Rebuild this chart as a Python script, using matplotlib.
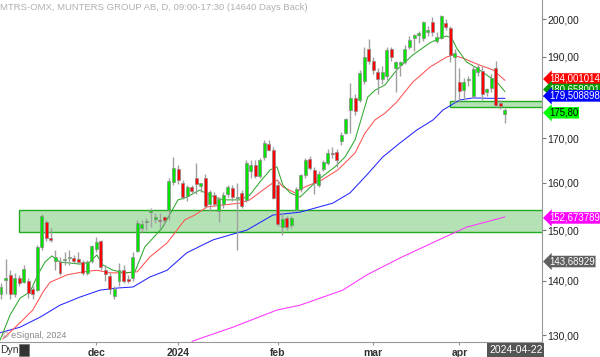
import matplotlib
matplotlib.use("Agg")
import matplotlib.pyplot as plt
from matplotlib.patches import Rectangle
from matplotlib.ticker import FixedLocator, NullLocator
import matplotlib.transforms as mtrans

plt.rcParams['font.family'] = ['Liberation Sans', 'DejaVu Sans']

# daily candles (open, high, low, close)
opens = [137.4, 140.2, 141.0, 137.4, 140.5, 139.8, 140.0, 138.4, 138.2, 146.5,
         151.7, 148.2, 143.8, 143.7, 144.0, 144.3, 144.4, 144.2, 143.7, 141.5,
         143.9, 146.1, 147.7, 142.0, 140.8, 137.1, 139.9, 142.0, 140.2, 140.5,
         145.7, 150.5, 151.6, 153.7, 152.3, 152.0, 152.6, 154.2, 160.2, 163.0,
         160.0, 157.2, 159.0, 161.0, 159.2, 161.0, 155.5, 157.4, 154.0, 155.5,
         157.5, 158.8, 156.6, 157.8, 156.3, 162.5, 164.0, 161.5, 165.7, 168.6,
         167.3, 159.5, 150.6, 152.5, 151.0, 154.2, 158.6, 161.6, 165.2, 162.8,
         159.5, 163.0, 164.4, 166.6, 166.8, 169.3, 171.2, 176.6, 179.6, 179.2,
         183.8, 192.0, 188.9, 186.1, 184.3, 185.0, 191.9, 187.0, 187.8, 188.5,
         192.5, 194.8, 195.6, 195.0, 196.5, 199.2, 194.0, 194.8, 198.8, 197.5,
         190.0, 183.6, 181.5, 184.0, 180.0, 186.0, 186.4, 181.0, 182.0, 187.0,
         178.4, 175.7]
highs = [139.5, 144.1, 142.0, 141.5, 141.0, 143.0, 140.5, 139.0, 147.0, 153.3,
         152.0, 150.5, 146.0, 144.5, 145.5, 146.0, 145.0, 145.5, 144.0, 144.0,
         147.0, 148.5, 148.0, 143.0, 141.5, 139.0, 143.5, 143.0, 141.0, 145.5,
         152.0, 152.0, 152.5, 154.5, 153.5, 153.5, 153.0, 161.0, 165.7, 164.0,
         160.5, 159.5, 159.6, 164.3, 160.0, 162.0, 158.5, 158.0, 157.0, 158.0,
         159.5, 159.5, 160.0, 158.5, 165.0, 165.0, 165.0, 165.5, 169.5, 169.5,
         168.0, 160.5, 153.5, 153.0, 153.0, 159.0, 162.0, 165.5, 166.0, 163.5,
         162.5, 165.0, 167.5, 168.0, 167.5, 171.5, 174.8, 183.4, 180.5, 186.5,
         192.5, 194.5, 190.0, 187.0, 187.5, 192.5, 192.5, 189.0, 189.0, 193.0,
         195.5, 196.0, 196.8, 199.5, 198.0, 200.6, 196.5, 201.2, 200.0, 198.0,
         192.0, 187.0, 184.5, 185.0, 187.5, 188.0, 187.5, 182.0, 185.5, 189.0,
         179.0, 177.2]
lows = [136.5, 137.5, 136.5, 137.0, 139.0, 139.5, 136.8, 136.5, 138.0, 146.0,
        147.8, 147.5, 142.0, 141.0, 143.0, 143.0, 143.5, 143.2, 141.0, 141.0,
        143.5, 145.5, 142.0, 140.0, 137.5, 136.5, 139.0, 139.5, 139.5, 140.0,
        145.5, 149.5, 150.0, 150.6, 151.5, 150.5, 151.0, 152.0, 159.5, 159.8,
        156.5, 156.0, 157.5, 157.6, 158.0, 154.5, 154.0, 155.0, 151.7, 154.5,
        157.0, 156.0, 146.0, 154.5, 155.8, 161.0, 161.0, 161.0, 165.0, 167.0,
        156.5, 150.8, 149.0, 150.0, 150.5, 154.0, 158.0, 161.0, 162.8, 157.5,
        159.0, 162.5, 164.0, 165.5, 163.5, 168.5, 171.0, 171.2, 175.5, 178.5,
        183.0, 188.0, 185.5, 180.5, 183.0, 184.0, 189.0, 181.0, 185.0, 188.0,
        192.0, 191.5, 193.5, 194.0, 195.5, 195.5, 193.5, 194.5, 197.0, 188.5,
        178.6, 178.6, 179.0, 182.5, 179.5, 185.0, 179.0, 180.0, 181.0, 177.3,
        177.0, 173.6]
closes = [138.8, 140.6, 137.5, 140.6, 139.5, 142.2, 137.6, 137.5, 146.5, 153.0,
          148.3, 148.0, 144.5, 141.5, 144.2, 144.4, 143.9, 143.7, 141.4, 143.7,
          146.7, 147.5, 142.7, 141.3, 138.5, 138.4, 142.1, 140.0, 140.0, 144.6,
          151.5, 151.2, 151.9, 154.1, 152.7, 151.8, 152.1, 160.4, 163.2, 160.5,
          157.0, 159.0, 158.3, 159.8, 160.0, 155.0, 158.0, 155.5, 156.4, 157.3,
          159.0, 156.9, 157.0, 155.0, 164.4, 164.0, 161.5, 165.0, 168.9, 167.3,
          156.8, 151.2, 152.2, 150.6, 152.5, 158.6, 161.6, 165.0, 163.2, 160.0,
          162.0, 164.5, 166.6, 166.3, 165.0, 170.7, 174.6, 179.6, 176.5, 185.8,
          189.8, 188.9, 186.5, 184.3, 186.0, 191.7, 190.0, 188.7, 188.5, 191.9,
          194.4, 195.6, 196.2, 199.2, 196.8, 196.6, 195.2, 200.8, 197.9, 190.3,
          191.0, 181.2, 183.6, 184.2, 186.7, 187.3, 180.6, 181.7, 184.5, 177.9,
          177.6, 176.6]

# moving averages, sampled along each line (bar index, price)
ma_fast_x = [-0.2, 2.0, 4.2, 6.4, 8.1, 9.7, 11.2, 13.0, 15.2, 17.4, 19.6, 21.1, 22.5,
             24.7, 27.3, 29.5, 31.7, 35.5, 37.7, 39.0, 40.5, 43.8, 46.0, 48.9, 52.6,
             54.8, 57.0, 59.3, 60.8, 62.1, 63.7, 65.9, 69.8, 73.6, 75.8, 78.0, 79.5,
             80.8, 82.4, 84.6, 87.2, 90.7, 94.5, 96.7, 98.2, 99.3, 100.4, 102.6,
             104.8, 107.0, 109.3, 111.0]
ma_fast_y = [129.1, 133.6, 136.7, 137.9, 141.1, 143.6, 144.8, 143.6, 143.4, 143.2, 143.6,
             145.0, 143.0, 142.0, 141.5, 141.7, 146.6, 150.4, 154.1, 156.3, 156.7, 158.4,
             157.3, 156.3, 156.3, 157.3, 160.1, 162.8, 163.5, 159.5, 157.8, 156.9, 160.6,
             163.5, 165.7, 169.6, 175.0, 179.8, 181.5, 182.8, 186.6, 190.4, 193.6, 194.9,
             195.4, 194.9, 192.2, 188.6, 187.1, 185.3, 183.5, 181.2]
ma_mid_x = [0.4, 4.2, 7.0, 9.3, 10.8, 14.5, 18.1, 21.1, 24.0, 27.8, 30.0, 32.8, 36.6,
            40.5, 42.7, 45.4, 48.9, 52.6, 54.8, 57.7, 60.8, 62.1, 64.8, 67.0, 70.7,
            74.2, 78.0, 80.2, 82.4, 84.6, 87.2, 90.7, 94.5, 98.2, 99.6, 101.8, 105.5,
            108.4, 111.0]
ma_mid_y = [129.3, 132.2, 134.5, 137.9, 139.7, 141.1, 141.7, 142.0, 141.5, 141.5, 141.7,
            144.6, 147.4, 152.1, 153.1, 154.8, 155.2, 155.6, 156.3, 158.4, 160.6, 159.1,
            157.8, 159.1, 160.6, 162.8, 166.6, 171.2, 174.3, 175.9, 178.6, 183.5, 187.3,
            189.9, 190.4, 189.6, 187.8, 186.6, 184.0]
ma_slow_x = [-0.2, 4.2, 8.6, 13.0, 17.4, 21.8, 25.6, 29.1, 32.8, 36.6, 40.9, 46.7,
             54.2, 59.9, 65.9, 73.1, 76.9, 80.6, 84.1, 87.9, 91.6, 95.2, 97.4, 101.1,
             104.0, 107.7, 111.0]
ma_slow_y = [130.4, 131.4, 133.2, 135.4, 136.9, 138.2, 138.6, 138.8, 140.7, 142.0, 145.4,
             148.0, 150.0, 153.1, 153.7, 155.6, 157.8, 161.7, 165.7, 168.9, 171.9, 174.3,
             176.7, 179.1, 179.6, 179.5, 179.5]
ma_long_x = [42.1, 51.1, 60.8, 65.9, 75.3, 80.6, 87.9, 97.4, 102.6, 111.0]
ma_long_y = [128.9, 131.4, 134.5, 135.4, 138.2, 141.1, 144.4, 148.4, 150.6, 152.7]

# support zones (start bar, low, high)
zones = [(3.9, 149.6, 154.2), (99.0, 177.3, 178.8)]

# right side value tags (text, price, background, text colour)
tags = [("184,001014", 184.3, "#ff0000", "white"),
        ("180,658001", 181.7, "#009900", "white"),
        ("179,508898", 180.1, "#0000ff", "white"),
        ("175,80", 176.0, "#00ff00", "black"),
        ("152,673789", 152.5, "#ff00ff", "white"),
        ("143,68929", 143.7, "#606060", "white")]

month_pos = [21, 39, 61, 82, 101]
month_labels = ["dec", "2024", "feb", "mar", "apr"]
price_ticks = [130, 140, 150, 160, 170, 180, 190, 200]
price_labels = ["130,00", "140,00", "150,00", "160,00", "170,00", "", "190,00", "200,00"]

fig = plt.figure(figsize=(6, 3.57), dpi=100)
ax = fig.add_axes([0, 15 / 357, 542 / 600, 342 / 357])
ax.set_yscale("log")
ax.set_xlim(-0.22, 119.2)
ax.set_ylim(128.77, 205.25)

for lo_x, lo, hi in zones:
    ax.add_patch(Rectangle((lo_x, lo), 200, hi - lo, facecolor="#b5e2b5",
                           edgecolor="#22aa22", lw=1.0, zorder=1))

ax.plot(ma_long_x, ma_long_y, color="#ff33ff", lw=0.75, zorder=2)
ax.plot(ma_slow_x, ma_slow_y, color="#2626ff", lw=0.75, zorder=2)
ax.plot(ma_mid_x, ma_mid_y, color="#ff5252", lw=0.75, zorder=2)
ax.plot(ma_fast_x, ma_fast_y, color="#2ea82e", lw=0.75, zorder=2)

for i in range(len(opens)):
    o, h, l, c = opens[i], highs[i], lows[i], closes[i]
    ax.vlines(i, l, h, color="#a0a0a0", lw=1.0, zorder=3)
    if c > o:
        fc = "#00e400"
    elif c < o:
        fc = "#ff0000"
    else:
        fc = "#777777"
    lo, hi = min(o, c), max(o, c)
    if hi / lo < 1.002:
        hi = lo * 1.002
    ax.add_patch(Rectangle((i - 0.33, lo), 0.66, hi - lo, facecolor=fc,
                           edgecolor="#8a8a8a", lw=0.5, zorder=4))

for s in ["top", "left"]:
    ax.spines[s].set_visible(False)
ax.spines["right"].set_color("#999999")
ax.spines["bottom"].set_color("#999999")

ax.yaxis.tick_right()
ax.yaxis.set_major_locator(FixedLocator(price_ticks))
ax.yaxis.set_minor_locator(NullLocator())
ax.set_yticklabels(price_labels)
ax.tick_params(axis="y", length=3, width=0.8, color="#777777", pad=1,
               labelsize=7.5, labelcolor="#222222")

ax.set_xticks(month_pos)
ax.set_xticklabels(month_labels, fontweight="bold")
ax.tick_params(axis="x", length=2, color="#999999", pad=2, labelsize=7.5,
               labelcolor="#333333")

tr = mtrans.blended_transform_factory(ax.transAxes, ax.transData)
for txt, val, bg, fg in tags:
    ax.text(1.013, val, txt, transform=tr, fontsize=6.9, color=fg, va="center",
            ha="left", clip_on=False, zorder=10,
            bbox=dict(boxstyle="larrow,pad=0.08", fc=bg, ec="none"))

ax.text(0.0, 1.0 - 7 / 342, "MTRS-OMX, MUNTERS GROUP AB, D, 09:00-17:30 (14640 Days Back)",
        transform=ax.transAxes, fontsize=6.8, color="#b0b0b0", va="center")
ax.text(0.003, 7 / 342, "\u00a9 eSignal, 2024", transform=ax.transAxes,
        fontsize=6.5, color="#888888", va="center")

fig.text(0.0, 7 / 357, "Dyn", fontsize=7.5, color="#333333", va="center")
fig.patches.append(Rectangle((19 / 600, 1 / 357), 10 / 600, 12 / 357,
                             transform=fig.transFigure, facecolor="#333333",
                             edgecolor="#777777", lw=0.6))
fig.text(489 / 600, 7 / 357, "2024-04-22", fontsize=7.5, color="white",
         va="center", ha="left",
         bbox=dict(boxstyle="square,pad=0.15", fc="#555555", ec="none"))

fig.savefig("out.png", dpi=100)
